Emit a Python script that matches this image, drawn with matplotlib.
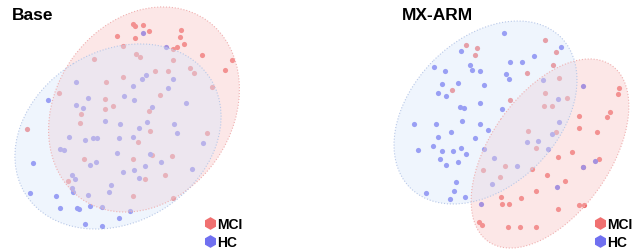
import numpy as np
import matplotlib.pyplot as plt
from matplotlib.patches import Ellipse
from matplotlib.lines import Line2D

plt.rcParams['font.family'] = ['Liberation Sans', 'DejaVu Sans']

# ---- data (embedding coordinates, y grows downward) ----
base_mci_x = [132.7, 135, 142.7, 149.3, 117.3, 134.7, 181, 180.3, 184.3, 177.3, 173.3, 123.3,
              135.7, 139.7, 172.7, 202.3, 231.7, 225, 190, 194, 155.3, 167.7, 94, 122.7,
              105.7, 211.7, 160, 58.7, 104.7, 105.3, 112.7, 81.3, 149.3, 80.3, 27.3, 150,
              138.3, 207, 83.7, 133.3, 151.7, 172, 68.3, 145, 165.3, 133, 173.3]
base_mci_y = [25, 27.3, 26, 32, 36.7, 38.7, 30.7, 37.7, 45, 48.3, 50, 46.7,
              55, 58, 61, 56.3, 61, 70.7, 69, 74, 71.7, 71.7, 60.3, 77.7,
              83.3, 88.3, 96, 94.3, 99.7, 109.7, 107, 115, 112, 124, 130, 131.7,
              143.3, 134.3, 160, 159.7, 155.7, 157.3, 181.7, 179.7, 175.7, 197, 199]

base_hc_x = [143.3, 166, 75.7, 145.7, 142, 173.3, 133.3, 168, 88.3, 124.3, 134.3, 47.7,
             76, 82.7, 151.7, 186.3, 105, 120.3, 146.7, 174, 138.7, 176.7, 69, 85.3,
             92.7, 96.7, 119.3, 133.3, 203.3, 60.3, 64, 117.3, 149.7, 32.7, 89.7, 96,
             144.7, 161.3, 123.3, 134, 192.3, 72.3, 75, 138.7, 111, 72, 73.3, 108.7,
             30.3, 56, 88.3, 60.3, 76.7, 79.3, 90.3, 101.7, 130, 118.7, 85.3, 102.3]
base_hc_y = [34.3, 48, 83, 76.3, 80, 79.7, 87, 89, 98.7, 96.7, 101, 101,
             105.7, 108.7, 108, 104, 121.7, 124.7, 123.3, 124.7, 128.7, 134.3, 137.7, 140.7,
             139, 139, 139, 137.7, 144.3, 150, 151, 154.3, 155, 164.3, 165.7, 163.3,
             166.7, 163, 172.7, 171, 170, 176, 179.7, 179.3, 186, 189.3, 192.7, 193,
             194, 196.7, 195.7, 208.7, 209, 209.7, 206.7, 207.7, 212, 219, 225, 227.3]

arm_mci_x = [466, 476.7, 474.7, 545, 556.3, 552.7, 527, 452.3, 510, 559, 545, 567.3,
             544.3, 552, 618.7, 618.3, 610.3, 607.3, 579, 527.7, 555.7, 578.7, 597, 536.3,
             557.7, 572.3, 598.7, 582.7, 504.7, 482.7, 531.7, 500, 547.3, 564.7, 536.3, 500.7,
             520.7, 501.7, 509, 557.7, 579.3, 584, 479.3, 482, 507.7, 520.3, 536]
arm_mci_y = [46, 49, 55.7, 41, 53, 66, 74.3, 90.7, 100.7, 79, 94, 98.7,
             107.3, 107.3, 89.3, 94.7, 113, 117.7, 116.7, 132.3, 133, 129.3, 133.3, 149.3,
             158, 153.3, 159.7, 167.7, 167, 170.7, 170.3, 178.3, 176.3, 181.7, 192, 198,
             198.7, 205.3, 204.7, 210.3, 206.3, 206.3, 223, 225.7, 228, 227.7, 228]

arm_hc_x = [503.7, 461.3, 561, 534, 510.3, 521.7, 469.7, 433.7, 471.7, 445, 480, 505.7,
            509, 458, 442, 483.7, 437.7, 446, 480.3, 459.7, 463.7, 502.3, 414.3, 436.3,
            462.3, 480, 543, 583.3, 557.7, 559, 451.3, 487.7, 437.7, 474.7, 418.3, 433,
            442.3, 453.3, 460.7, 466.3, 440, 458, 446.3, 484, 456, 454.3, 425.7, 450,
            465.3, 480.7, 494, 491.7, 516.7, 527, 537.7, 548.3, 551.7, 557.3, 595.3, 583]
arm_hc_y = [33.7, 51.7, 48.3, 56.7, 63.3, 63.3, 65.7, 68, 70.7, 72, 72, 75,
            80, 84, 85.3, 86, 94.3, 97, 104.3, 107.7, 109, 109.7, 125, 125,
            122.3, 125, 80.7, 86.7, 100.3, 122.7, 133.3, 131, 138.3, 139.3, 151, 147,
            152.3, 152.3, 149, 155, 159.7, 163, 165.7, 149.7, 183, 191.7, 193.7, 200.3,
            198.3, 205.3, 159.3, 185.3, 166.7, 143, 142, 149.7, 135.3, 188.3, 162.3, 168.3]

# group ellipses: centre x, centre y, width, height, tilt (deg)
base_mci_ell = [144, 110.5, 218, 176, -55]
base_hc_ell = [118, 137.5, 218, 171, -31.6]
arm_mci_ell = [550, 154.5, 215, 120, -55]
arm_hc_ell = [485.5, 113.5, 213, 147, -45]

titles = ['Base', 'MX-ARM']
labels = ['MCI', 'HC']

mci_color = '#f07070'
hc_color = '#7070f0'
mci_fill = '#f8c5c5'
hc_fill = '#d7e6fc'


def group_ellipse(ax, ell, face, edge):
    cx, cy, w, h, ang = ell
    ax.add_patch(Ellipse((cx, cy), w, h, angle=ang, facecolor=face, alpha=0.4,
                         edgecolor='none', zorder=3, clip_on=False))
    ax.add_patch(Ellipse((cx, cy), w, h, angle=ang, facecolor='none',
                         edgecolor=edge, lw=0.8, ls=':', zorder=4, clip_on=False))


def panel(ax, mx, my, hx, hy, mell, hell, xlo):
    ax.scatter(mx, my, s=14, color=mci_color, lw=0, zorder=2)
    ax.scatter(hx, hy, s=14, color=hc_color, lw=0, zorder=2)
    group_ellipse(ax, mell, mci_fill, '#f0b0b0')
    group_ellipse(ax, hell, hc_fill, '#b8c8e8')
    ax.set_xlim(xlo, xlo + 250)
    ax.set_ylim(251, 0)
    ax.axis('off')
    handles = [Line2D([], [], ls='', marker='h', ms=8, color=mci_color),
               Line2D([], [], ls='', marker='h', ms=8, color=hc_color)]
    ax.legend(handles, labels, loc='lower left', bbox_to_anchor=(0.79, -0.028),
              frameon=False, handlelength=0.6, handletextpad=0.2, labelspacing=0.25,
              borderpad=0.1, prop={'weight': 'bold', 'size': 10})


fig = plt.figure(figsize=(6.4, 2.51), dpi=100)
ax1 = fig.add_axes([0, 0, 250 / 640, 1])
ax2 = fig.add_axes([390 / 640, 0, 250 / 640, 1])
panel(ax1, base_mci_x, base_mci_y, base_hc_x, base_hc_y, base_mci_ell, base_hc_ell, 0)
panel(ax2, arm_mci_x, arm_mci_y, arm_hc_x, arm_hc_y, arm_mci_ell, arm_hc_ell, 390)
fig.text(12 / 640, 1 - 16 / 251, titles[0], fontsize=12.5, weight='bold', va='center')
fig.text(402 / 640, 1 - 16 / 251, titles[1], fontsize=12.5, weight='bold', va='center')

fig.savefig('out.png', dpi=100)
